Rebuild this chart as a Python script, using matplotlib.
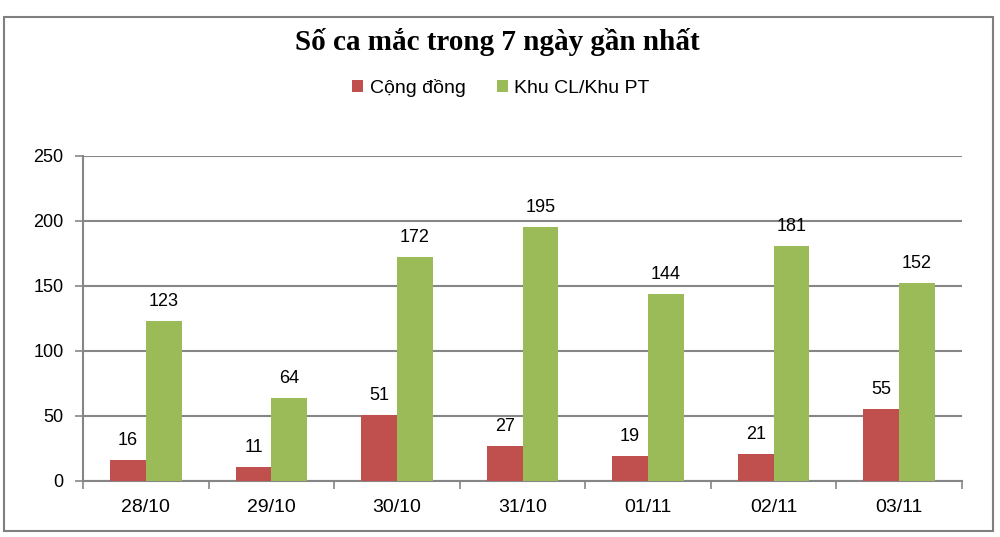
import matplotlib
matplotlib.use("Agg")
import matplotlib.pyplot as plt
import numpy as np
from matplotlib.patches import Patch, Rectangle

categories = ["28/10", "29/10", "30/10", "31/10", "01/11", "02/11", "03/11"]
cong_dong = [16, 11, 51, 27, 19, 21, 55]
khu_cl = [123, 64, 172, 195, 144, 181, 152]
series_names = ["Cộng đồng", "Khu CL/Khu PT"]
title = "Số ca mắc trong 7 ngày gần nhất"

RED = "#C0504D"
GREEN = "#9BBB59"
GRID = "#868686"

plt.rcParams['font.family'] = ['Liberation Sans', 'DejaVu Sans']

fig = plt.figure(figsize=(10, 5.37), dpi=100)
fig.patches.append(Rectangle((0.004, 0.012), 0.989, 0.957, transform=fig.transFigure,
                             fill=False, edgecolor="#7f7f7f", linewidth=1.5))

ax = fig.add_axes([0.083, 0.1043, 0.879, 0.6052])
x = np.arange(len(categories))
w = 0.285
b1 = ax.bar(x - w/2, cong_dong, w, color=RED, zorder=3)
b2 = ax.bar(x + w/2, khu_cl, w, color=GREEN, zorder=3)

for bars, vals in ((b1, cong_dong), (b2, khu_cl)):
    for r, v in zip(bars, vals):
        ax.annotate(str(v), (r.get_x() + r.get_width()/2, v), xytext=(0, 8),
                    textcoords="offset points", ha="center", va="bottom",
                    fontsize=13, color="black")

ax.set_xlim(-0.5, len(categories) - 0.5)
ax.set_ylim(0, 250)
ax.set_yticks([0, 50, 100, 150, 200, 250])
ax.yaxis.grid(True, color=GRID, linewidth=1.5, zorder=0)
ax.set_axisbelow(True)
ax.set_xticks(x)
ax.set_xticklabels(categories)
ax.set_xticks(np.arange(-0.5, len(categories)), minor=True)
ax.tick_params(axis="x", which="major", length=0, pad=13, labelsize=14)
ax.tick_params(axis="x", which="minor", length=6, width=1.2, color=GRID, direction="out")
ax.tick_params(axis="y", length=6, width=1.2, color=GRID, pad=8, labelsize=13)
for s in ("top", "right"):
    ax.spines[s].set_visible(False)
for s in ("left", "bottom"):
    ax.spines[s].set_color(GRID)
    ax.spines[s].set_linewidth(1.5)

fig.text(0.497, 0.922, title, ha="center", va="center", fontsize=21,
         fontweight="bold", family=["Liberation Serif", "DejaVu Serif"])

handles = [Patch(facecolor=RED), Patch(facecolor=GREEN)]
fig.legend(handles, series_names, loc="center", bbox_to_anchor=(0.501, 0.836), ncol=2,
           frameon=False, fontsize=14, handlelength=0.55, handleheight=0.55,
           handletextpad=0.35, columnspacing=1.6)

fig.savefig("out.png", dpi=100)
